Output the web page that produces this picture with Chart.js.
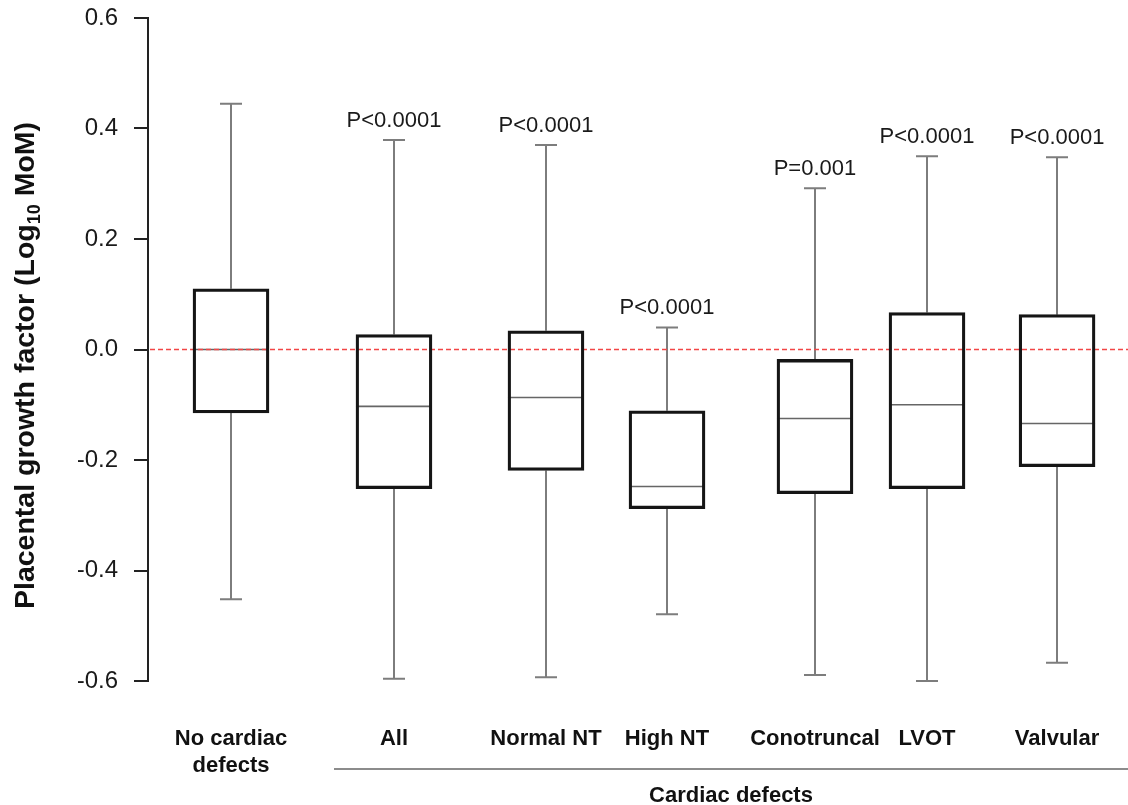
<!DOCTYPE html>
<html>
<head>
<meta charset="utf-8">
<script src="https://cdn.jsdelivr.net/npm/chart.js@4.4.1/dist/chart.umd.min.js"></script>
<style>
  html, body { margin: 0; padding: 0; background: #fff; }
</style>
</head>
<body>
<canvas id="pgf" width="1128" height="805"></canvas>
<script>
// PlGF (log10 MoM) by group
const categories = [['No cardiac', 'defects'], 'All', 'Normal NT', 'High NT', 'Conotruncal', 'LVOT', 'Valvular'];
const whiskerHigh = [0.445, 0.379, 0.370, 0.040, 0.292, 0.350, 0.348];
const q3 = [0.110, 0.027, 0.034, -0.111, -0.018, 0.067, 0.063];
const medians = [0.000, -0.103, -0.087, -0.248, -0.125, -0.100, -0.134];
const q1 = [-0.115, -0.252, -0.219, -0.288, -0.261, -0.252, -0.212];
const whiskerLow = [-0.452, -0.596, -0.593, -0.479, -0.589, -0.600, -0.567];
const pLabels = ['', 'P<0.0001', 'P<0.0001', 'P<0.0001', 'P=0.001', 'P<0.0001', 'P<0.0001'];
const yTicks = [-0.6, -0.4, -0.2, 0.0, 0.2, 0.4, 0.6];
const groupTitle = 'Cardiac defects';
const yTitle = ['Placental growth factor (Log', '10', ' MoM)'];

// where each group sits along the x axis (0..10), and where the "cardiac defects" bracket starts
const slots = [0.847, 2.510, 4.061, 5.296, 6.806, 7.949, 9.276];
const groupStart = 1.898;

const FONT = '"Liberation Sans", Arial, sans-serif';

const boxParts = {
  id: 'boxParts',
  beforeDatasetsDraw(chart) {
    const { ctx, chartArea, scales: { x, y } } = chart;
    const bars = chart.getDatasetMeta(0).data;
    ctx.save();

    // whiskers + caps
    ctx.strokeStyle = '#7d7d7d';
    ctx.lineWidth = 2;
    slots.forEach((s, i) => {
      const cx = Math.round(x.getPixelForValue(s));
      const hi = y.getPixelForValue(whiskerHigh[i]);
      const lo = y.getPixelForValue(whiskerLow[i]);
      ctx.beginPath();
      ctx.moveTo(cx, y.getPixelForValue(q3[i]));
      ctx.lineTo(cx, hi);
      ctx.moveTo(cx - 11, hi);
      ctx.lineTo(cx + 11, hi);
      ctx.moveTo(cx, y.getPixelForValue(q1[i]));
      ctx.lineTo(cx, lo);
      ctx.moveTo(cx - 11, lo);
      ctx.lineTo(cx + 11, lo);
      ctx.stroke();
    });

    // medians
    ctx.strokeStyle = '#666';
    ctx.lineWidth = 1.6;
    bars.forEach((bar, i) => {
      const my = y.getPixelForValue(medians[i]);
      ctx.beginPath();
      ctx.moveTo(bar.x - bar.width / 2, my);
      ctx.lineTo(bar.x + bar.width / 2, my);
      ctx.stroke();
    });

    // reference line at zero
    const y0 = y.getPixelForValue(0);
    ctx.strokeStyle = 'rgb(242, 70, 70)';
    ctx.lineWidth = 1.5;
    ctx.setLineDash([5, 3]);
    ctx.beginPath();
    ctx.moveTo(chartArea.left + 2, y0);
    ctx.lineTo(chartArea.right, y0);
    ctx.stroke();
    ctx.restore();
  },
  afterDatasetsDraw(chart) {
    const { ctx, scales: { x, y } } = chart;
    ctx.save();
    ctx.fillStyle = '#1a1a1a';
    ctx.font = '22px ' + FONT;
    ctx.textAlign = 'center';
    ctx.textBaseline = 'alphabetic';
    pLabels.forEach((t, i) => {
      if (!t) return;
      ctx.fillText(t, x.getPixelForValue(slots[i]), y.getPixelForValue(whiskerHigh[i]) - 13);
    });
    ctx.restore();
  },
  afterDraw(chart) {
    const { ctx, chartArea, scales: { x, y } } = chart;
    ctx.save();

    // bracket line + label under the defect groups
    const gx = x.getPixelForValue(groupStart);
    const gy = x.bottom - 10;
    ctx.strokeStyle = '#8c8c8c';
    ctx.lineWidth = 2;
    ctx.beginPath();
    ctx.moveTo(gx, gy);
    ctx.lineTo(chartArea.right, gy);
    ctx.stroke();
    ctx.fillStyle = '#111';
    ctx.font = 'bold 22px ' + FONT;
    ctx.textAlign = 'center';
    ctx.textBaseline = 'middle';
    ctx.fillText(groupTitle, (gx + chartArea.right) / 2, gy + 27);

    // rotated y title with subscript
    const big = 'bold 28.5px ' + FONT;
    const small = 'bold 18px ' + FONT;
    ctx.font = big;
    const w0 = ctx.measureText(yTitle[0]).width;
    const w2 = ctx.measureText(yTitle[2]).width;
    ctx.font = small;
    const w1 = ctx.measureText(yTitle[1]).width;
    const total = w0 + w1 + w2;
    const cy = (y.getPixelForValue(0.6) + y.getPixelForValue(-0.6)) / 2 + 16;
    ctx.translate(34, cy);
    ctx.rotate(-Math.PI / 2);
    ctx.textAlign = 'left';
    ctx.textBaseline = 'alphabetic';
    let pos = -total / 2;
    ctx.font = big;
    ctx.fillText(yTitle[0], pos, 0);
    pos += w0;
    ctx.font = small;
    ctx.fillText(yTitle[1], pos, 6);
    pos += w1;
    ctx.font = big;
    ctx.fillText(yTitle[2], pos, 0);
    ctx.restore();
  }
};

new Chart(document.getElementById('pgf'), {
  type: 'bar',
  data: {
    datasets: [{
      label: 'IQR',
      data: slots.map((s, i) => ({ x: s, y: [q1[i], q3[i]] })),
      backgroundColor: 'rgba(0,0,0,0)',
      borderColor: '#151515',
      borderWidth: 2.6,
      borderSkipped: false,
      barThickness: 76
    }]
  },
  options: {
    responsive: false,
    animation: false,
    layout: { padding: { left: 78, right: 0, top: 18, bottom: 26 } },
    plugins: {
      legend: { display: false },
      tooltip: { enabled: false }
    },
    scales: {
      x: {
        type: 'linear',
        min: 0,
        max: 10,
        offset: false,
        grid: { display: false, drawTicks: false },
        border: { display: false },
        afterBuildTicks: (scale) => { scale.ticks = slots.map(v => ({ value: v })); },
        afterFit: (scale) => {
          scale.height = 98;
          scale.paddingLeft = 0;
          scale.paddingRight = 0;
        },
        ticks: {
          autoSkip: false,
          maxRotation: 0,
          padding: 45,
          color: '#111',
          font: { family: FONT, size: 22, weight: 'bold' },
          callback: (v, i) => categories[i]
        }
      },
      y: {
        min: -0.6,
        max: 0.6,
        grid: { drawOnChartArea: false, drawTicks: true, tickLength: 14, color: '#222', lineWidth: 2 },
        border: { display: true, color: '#222', width: 2 },
        afterBuildTicks: (scale) => { scale.ticks = yTicks.map(v => ({ value: v })); },
        afterFit: (scale) => {
          scale.width = 70;
          scale.paddingTop = 0;
          scale.paddingBottom = 0;
        },
        ticks: {
          padding: 16,
          color: '#1a1a1a',
          font: { family: FONT, size: 24 },
          callback: (v) => Number(v).toFixed(1)
        }
      }
    }
  },
  plugins: [boxParts]
});
</script>
</body>
</html>
